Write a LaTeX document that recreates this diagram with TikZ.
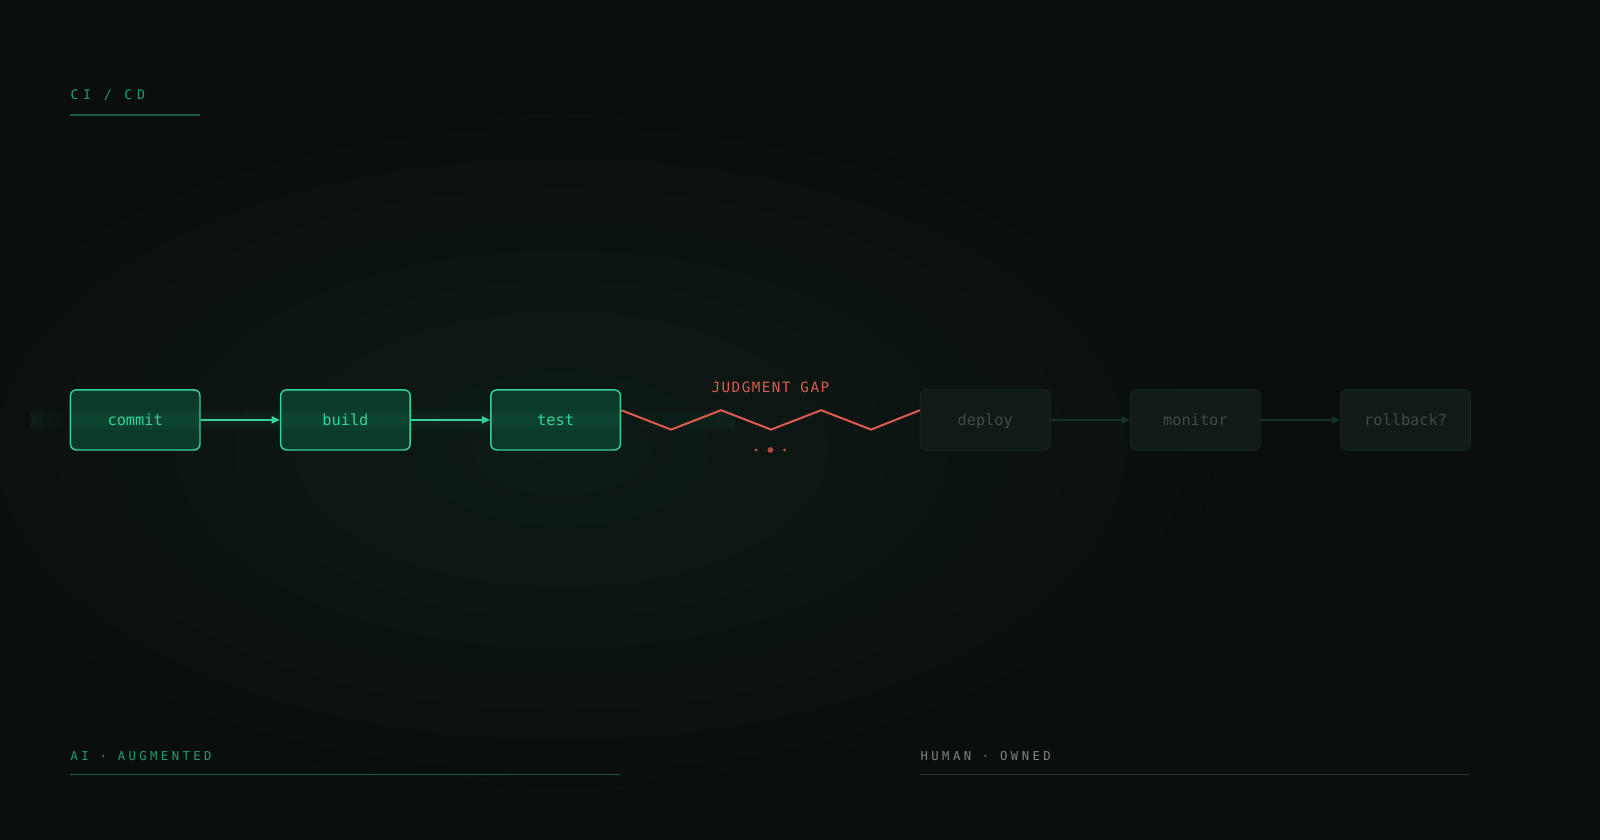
\documentclass[tikz,border=0pt]{standalone}
\usepackage{fontspec}
\setmonofont{DejaVu Sans Mono}
\newfontfamily\capsfont[LetterSpace=35]{DejaVu Sans Mono}
\newfontfamily\footfont[LetterSpace=28]{DejaVu Sans Mono}
\newfontfamily\gapfont[LetterSpace=10]{DejaVu Sans Mono}
\usepackage{tikz}
\usetikzlibrary{arrows.meta,positioning,calc,fadings}
\definecolor{bgdark}{HTML}{0A0F0E}
\definecolor{bgglow}{HTML}{0D1A15}
\definecolor{aigreen}{HTML}{34D399}
\definecolor{aifill}{HTML}{0B3A2A}
\definecolor{aidim}{HTML}{1F9E6E}
\definecolor{airule}{HTML}{1A5A42}
\definecolor{gapred}{HTML}{DC5A50}
\definecolor{humfill}{HTML}{111A17}
\definecolor{humedge}{HTML}{18241F}
\definecolor{humtext}{HTML}{3E4B46}
\definecolor{humarrow}{HTML}{16302A}
\definecolor{humlabel}{HTML}{7A8580}
\definecolor{humrule}{HTML}{2C3532}
\tikzset{
	x=1pt, y=-1pt,
	node distance=206pt,
	on grid,
	stage/.style={rectangle, rounded corners=6pt, minimum width=127pt,
		minimum height=59pt, text height=11.2pt, text depth=0pt,
		font=\fontsize{15}{18}\selectfont\ttfamily},
	ai/.style={stage, draw=aigreen, line width=1.4pt, fill=aifill, text=aigreen},
	human/.style={stage, draw=humedge, line width=1pt, fill=humfill, text=humtext},
	flow/.style={-{Triangle[length=8pt,width=7pt]}, line width=1.6pt, draw=aigreen},
	dimflow/.style={-{Triangle[length=8pt,width=7pt]}, line width=1.2pt, draw=humarrow},
	gap/.style={draw=gapred, line width=2pt, line join=miter},
	band/.style={fill=aigreen, opacity=0.035},
	tag/.style={anchor=base west, inner sep=0pt, font=\fontsize{13}{15}\selectfont\capsfont},
	foot/.style={anchor=base west, inner sep=0pt, font=\fontsize{12}{14}\selectfont\footfont},
}
\begin{document}
\begin{tikzpicture}
	% background and glow
	\useasboundingbox (0,0) rectangle (1568,823.2);
	\clip (0,0) rectangle (1568,823.2);
	\fill[bgdark] (0,0) rectangle (1568,823.2);
	\fill[inner color=bgglow, outer color=bgdark] (550,440) ellipse (640pt and 330pt);

	% title
	\node[tag, text=aidim] (title) at (69,98) {CI / CD};
	\coordinate (titleA) at (69,113);
	\coordinate (titleB) at (196,113);
	\draw[airule, line width=1.8pt] (titleA) -- (titleB);

	% pipeline
	\node[ai] (commit) at (132.5,411.5) {};
	\node[ai, right=of commit] (build) {};
	\node[ai, right=of build] (test) {};
	\node[human, right=421pt of test] (deploy) {deploy};
	\node[human, right=of deploy] (monitor) {monitor};
	\node[human, right=of monitor] (rollback) {rollback?};

	% glow band through the AI stages
	\foreach \h in {6,10} {
		\fill[band] (69,411.5-\h) rectangle (608,411.5+\h);
		\fill[band, path fading=east] (30,411.5-\h) rectangle (69,411.5+\h);
		\fill[band, path fading=west] (608,411.5-\h) rectangle (720,411.5+\h);
	}
	\node[stage, text=aigreen] at (commit) {commit};
	\node[stage, text=aigreen] at (build) {build};
	\node[stage, text=aigreen] at (test) {test};

	\draw[flow] (commit) -- (build);
	\draw[flow] (build) -- (test);
	\draw[dimflow] (deploy) -- (monitor);
	\draw[dimflow] (monitor) -- (rollback);

	% judgment gap
	\coordinate (gs) at ([yshift=9.5pt]test.east);
	\coordinate (ge) at ([yshift=9.5pt]deploy.west);
	\draw[gap] (gs) -- ++(49,19) -- ++(49,-19) -- ++(49,19) -- ++(49,-19) -- ++(49,19) -- (ge);
	\node[anchor=base, inner sep=0pt, text=gapred, font=\fontsize{14}{16}\selectfont\gapfont]
		(gaplabel) at (755,385) {JUDGMENT GAP};
	\fill[gapred!75!bgdark] (741,441) circle (1.7pt);
	\fill[gapred!80!bgdark] (755,441) circle (2.8pt);
	\fill[gapred!75!bgdark] (769,441) circle (1.7pt);

	% footer
	\node[foot, text=aidim] (ailabel) at (69,745) {AI · AUGMENTED};
	\node[foot, text=humlabel] (humlabel) at (902,745) {HUMAN · OWNED};
	\coordinate (aiA) at (69,759);
	\coordinate (aiB) at (608,759);
	\coordinate (humA) at (902,759);
	\coordinate (humB) at (1441,759);
	\draw[airule, line width=1.8pt] (aiA) -- (aiB);
	\draw[humrule, line width=1.8pt] (humA) -- (humB);
\end{tikzpicture}
\end{document}
